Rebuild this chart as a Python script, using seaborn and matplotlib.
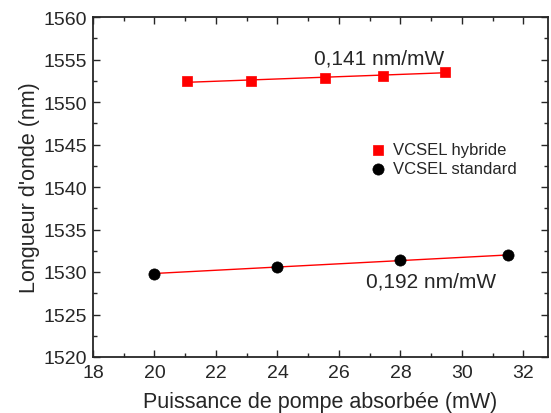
import matplotlib
matplotlib.use("Agg")
import matplotlib.pyplot as plt
import seaborn as sns
import numpy as np
from matplotlib.ticker import MultipleLocator

sns.set_style("ticks")
plt.rcParams['font.family'] = ['Liberation Sans', 'DejaVu Sans']

hyb_x = [21.05, 23.15, 25.55, 27.42, 29.45]
hyb_y = [1552.45, 1552.5, 1552.82, 1553.1, 1553.57]
std_x = [20.0, 24.0, 28.0, 31.5]
std_y = [1529.78, 1530.63, 1531.4, 1531.95]
labels = ["VCSEL hybride", "VCSEL standard"]
slope_texts = ["0,141 nm/mW", "0,192 nm/mW"]

fig = plt.figure(figsize=(5.51, 4.14), dpi=100)
ax = fig.add_axes([93/551, 1-358/414, (548-93)/551, (358-18)/414])

sns.regplot(x=hyb_x, y=hyb_y, ax=ax, ci=None, scatter=False, truncate=True,
            line_kws=dict(color='red', lw=1))
sns.regplot(x=std_x, y=std_y, ax=ax, ci=None, scatter=False, truncate=True,
            line_kws=dict(color='red', lw=1))
sns.scatterplot(x=hyb_x, y=hyb_y, ax=ax, marker='s', color='red', s=60,
                edgecolor='red', linewidth=0.5, label=labels[0], zorder=3)
sns.scatterplot(x=std_x, y=std_y, ax=ax, marker='o', color='black', s=65,
                edgecolor='black', linewidth=0.5, label=labels[1], zorder=3)

ax.set_xlim(18, 32.8)
ax.set_ylim(1520, 1560)
ax.xaxis.set_major_locator(MultipleLocator(2))
ax.xaxis.set_minor_locator(MultipleLocator(1))
ax.yaxis.set_major_locator(MultipleLocator(5))
ax.yaxis.set_minor_locator(MultipleLocator(2.5))
ax.tick_params(which='both', direction='in', top=True, right=True,
               labelsize=14, width=1, pad=4)
ax.tick_params(axis='x', pad=5)
ax.tick_params(which='major', length=5)
ax.tick_params(which='minor', length=3)
for s in ax.spines.values():
    s.set_linewidth(1.3)
    s.set_visible(True)

ax.set_xlabel("Puissance de pompe absorbée (mW)", fontsize=15.5, labelpad=7)
ax.set_ylabel("Longueur d'onde (nm)", fontsize=15.5, labelpad=3)

ax.text(27.3, 1555.2, slope_texts[0], fontsize=15, ha='center', va='center')
ax.text(29.0, 1528.9, slope_texts[1], fontsize=15, ha='center', va='center')

leg = ax.legend(loc='center left', bbox_to_anchor=(360/551, 1-160/414),
                bbox_transform=fig.transFigure, frameon=False,
                fontsize=12, handletextpad=0.3, borderpad=0.0, labelspacing=0.25,
                markerscale=1.0, handlelength=1.2)

fig.savefig("out.png", dpi=100)
